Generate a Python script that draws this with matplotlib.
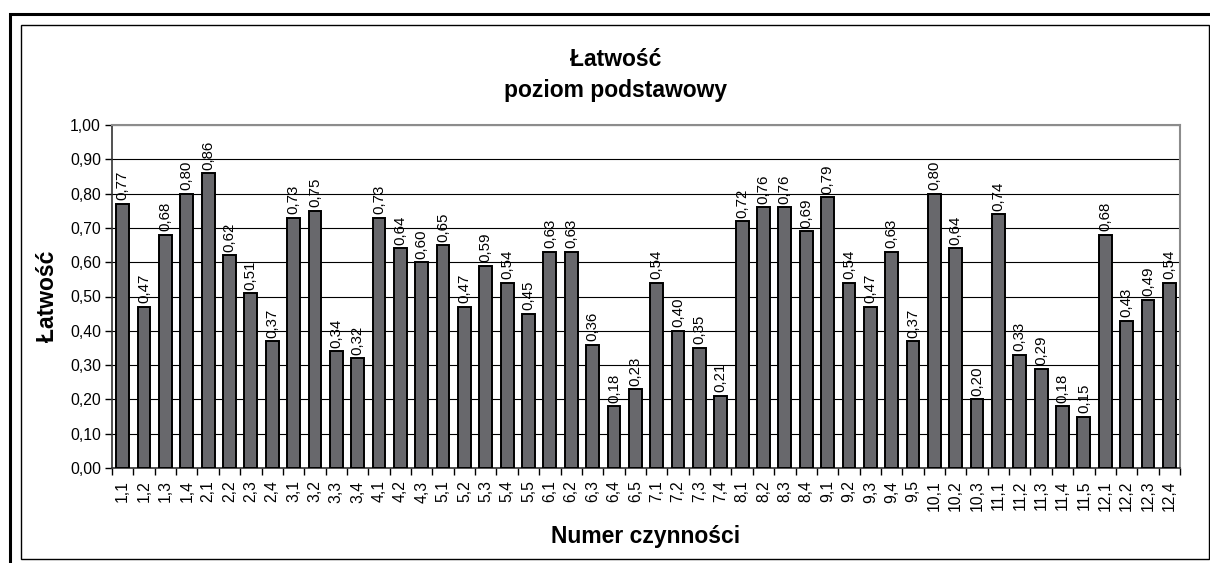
import matplotlib
matplotlib.use("Agg")
import matplotlib.pyplot as plt
from matplotlib.patches import Rectangle
from matplotlib.ticker import FixedLocator, NullFormatter
import numpy as np

categories = ["1.1","1.2","1.3","1.4","2.1","2.2","2.3","2.4","3.1","3.2","3.3","3.4",
              "4.1","4.2","4.3","5.1","5.2","5.3","5.4","5.5","6.1","6.2","6.3","6.4","6.5",
              "7.1","7.2","7.3","7.4","8.1","8.2","8.3","8.4","9.1","9.2","9.3","9.4","9.5",
              "10.1","10.2","10.3","11.1","11.2","11.3","11.4","11.5","12.1","12.2","12.3","12.4"]
values = [0.77,0.47,0.68,0.80,0.86,0.62,0.51,0.37,0.73,0.75,0.34,0.32,
          0.73,0.64,0.60,0.65,0.47,0.59,0.54,0.45,0.63,0.63,0.36,0.18,0.23,
          0.54,0.40,0.35,0.21,0.72,0.76,0.76,0.69,0.79,0.54,0.47,0.63,0.37,
          0.80,0.64,0.20,0.74,0.33,0.29,0.18,0.15,0.68,0.43,0.49,0.54]
yticks = [0.0,0.1,0.2,0.3,0.4,0.5,0.6,0.7,0.8,0.9,1.0]
title_lines = ["Łatwość", "poziom podstawowy"]
xlabel = "Numer czynności"
ylabel = "Łatwość"

plt.rcParams['font.family'] = ['Liberation Sans', 'DejaVu Sans']

W, H = 1210, 563
fig = plt.figure(figsize=(W/100, H/100), dpi=100)

# frames
fig.add_artist(Rectangle((10/W, -0.1), 1.2, (H-14)/H + 0.1, transform=fig.transFigure,
                         fill=False, edgecolor='black', linewidth=2.2))
fig.add_artist(Rectangle((21/W, (H-559)/H), (1209-21)/W, (559-25)/H, transform=fig.transFigure,
                         fill=False, edgecolor='black', linewidth=1.0))

left, right, top, bottom = 112, 1180, 125, 468
ax = fig.add_axes([left/W, (H-bottom)/H, (right-left)/W, (bottom-top)/H])

x = np.arange(len(categories))
ax.bar(x, values, width=0.6, color='#68686c', edgecolor='black', linewidth=1.4, zorder=3)

for xi, v in zip(x, values):
    ax.annotate(f"{v:.2f}".replace('.', ','), (xi, v), xytext=(0, 2.5), textcoords='offset points',
                rotation=90, ha='center', va='bottom', fontsize=10.8, zorder=4)

ax.set_xlim(-0.5, len(categories)-0.5)
ax.set_ylim(0, 1.0)
ax.set_yticks(yticks)
ax.set_yticklabels([f"{t:.2f}".replace('.', ',') for t in yticks], fontsize=11.3)
ax.yaxis.grid(True, color='black', linewidth=0.8, zorder=0)
ax.set_axisbelow(True)

ax.set_xticks(x)
ax.set_xticklabels([c.replace('.', ',') for c in categories], rotation=90, fontsize=11.3)
ax.tick_params(axis='x', which='major', length=0, pad=9)
ax.xaxis.set_minor_locator(FixedLocator(np.arange(-0.5, len(categories), 1.0)))
ax.xaxis.set_minor_formatter(NullFormatter())
ax.tick_params(axis='x', which='minor', length=5, width=1, direction='out')
ax.tick_params(axis='y', length=5, width=1, direction='out', pad=3)

for s in ['top', 'right']:
    ax.spines[s].set_color('#8c8c8c')
    ax.spines[s].set_linewidth(1.5)
for s in ['left', 'bottom']:
    ax.spines[s].set_color('#333333')
    ax.spines[s].set_linewidth(1.2)

tx = 616/W
cx = (left+right)/2/W
fig.text(tx, (H-59)/H, title_lines[0], ha='center', va='center', fontsize=16.5, fontweight='bold')
fig.text(tx, (H-90)/H, title_lines[1], ha='center', va='center', fontsize=16.5, fontweight='bold')
fig.text(cx, (H-536)/H, xlabel, ha='center', va='center', fontsize=16.5, fontweight='bold')
fig.text(47/W, (H-(top+bottom)/2)/H, ylabel, ha='center', va='center', rotation=90, fontsize=16.5, fontweight='bold')

fig.savefig("out.png", dpi=100)
